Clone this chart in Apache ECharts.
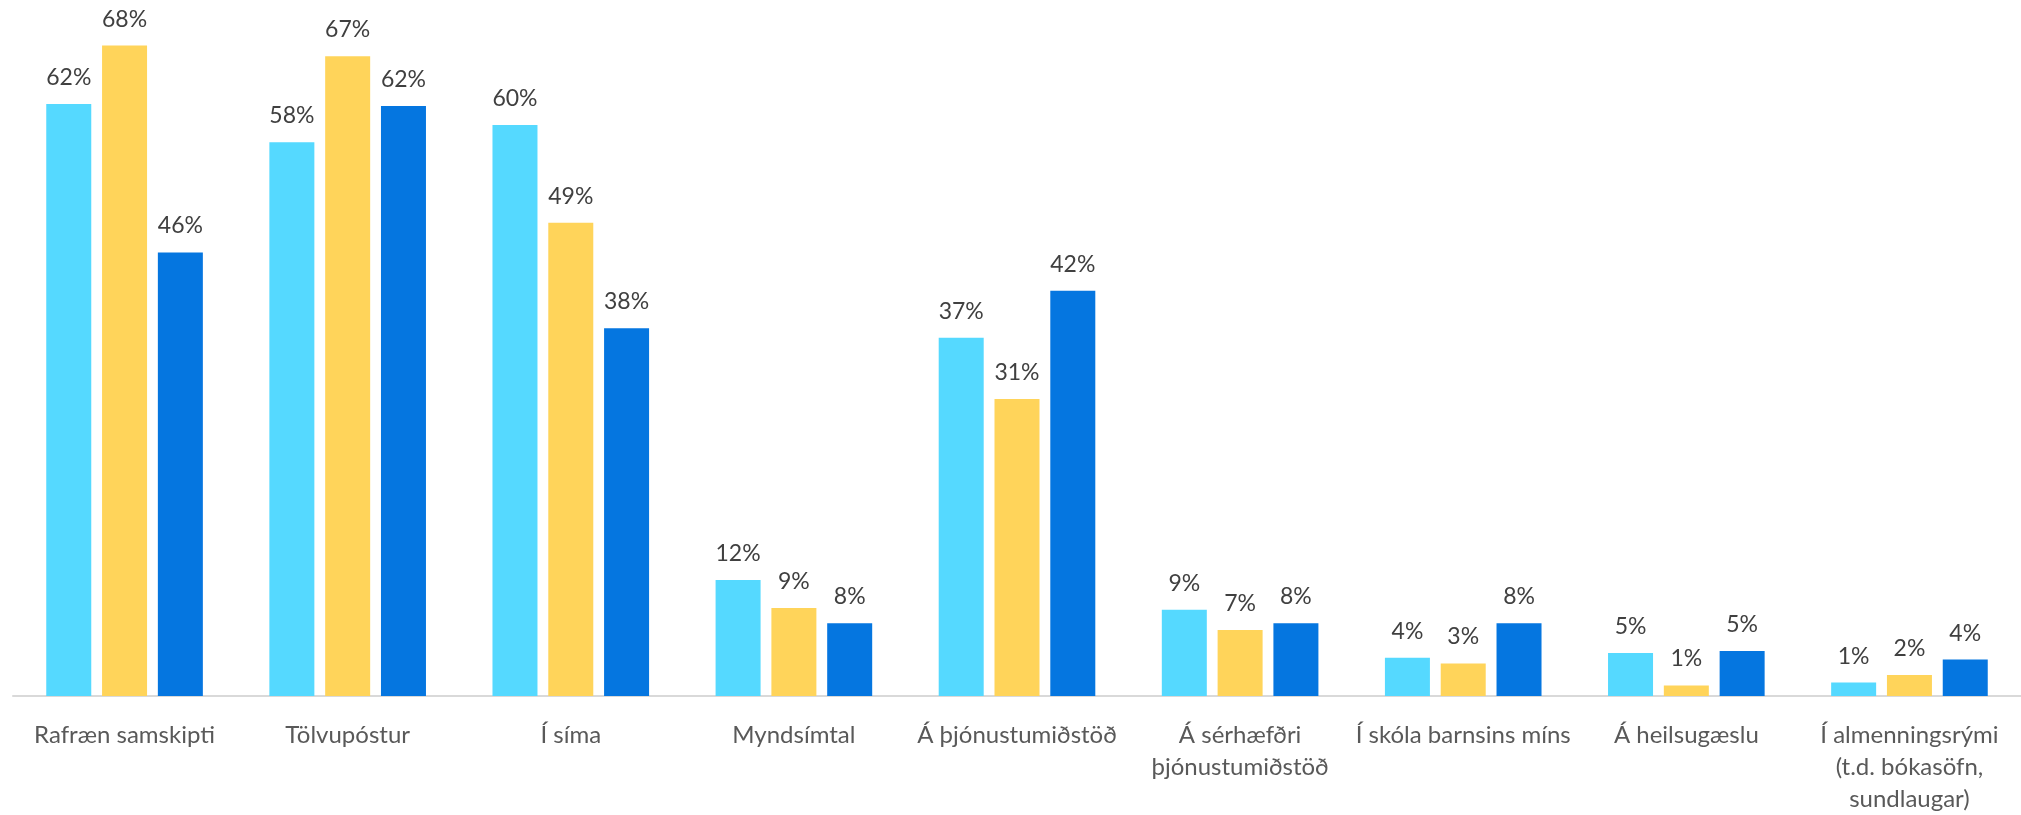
<!DOCTYPE html>
<html>
<head>
<meta charset="utf-8">
<script src="https://cdn.jsdelivr.net/npm/echarts@6/dist/echarts.min.js"></script>
<style>
  html, body { margin: 0; padding: 0; background: #fff; }
  #chart { width: 2021px; height: 815px; }
</style>
</head>
<body>
<div id="chart"></div>
<script>
// flokkar (x-ás)
var categories = [
    'Rafræn samskipti',
    'Tölvupóstur',
    'Í síma',
    'Myndsímtal',
    'Á þjónustumiðstöð',
    'Á sérhæfðri\nþjónustumiðstöð',
    'Í skóla barnsins míns',
    'Á heilsugæslu',
    'Í almenningsrými\n(t.d. bókasöfn,\nsundlaugar)'
];
// gildi í % lesin af myndinni
var lightBlueValues = [61.8, 57.8, 59.6, 12.1, 37.4, 9.0, 4.0, 4.5, 1.4];
var yellowValues = [67.9, 66.8, 49.4, 9.2, 31.0, 6.9, 3.4, 1.1, 2.2];
var blueValues = [46.3, 61.6, 38.4, 7.6, 42.3, 7.6, 7.6, 4.7, 3.8];

var fontFamily = 'Lato, "Open Sans", sans-serif';

function makeSeries(data, color) {
    return {
        type: 'bar',
        data: data,
        barWidth: 45,
        barGap: '24%',
        itemStyle: { color: color },
        label: {
            show: true,
            position: 'top',
            distance: 15,
            color: '#404040',
            fontSize: 23,
            fontFamily: fontFamily,
            formatter: function (p) {
                return Math.round(p.value) + '%';
            }
        }
    };
}

var chart = echarts.init(document.getElementById('chart'));
var option = {
    backgroundColor: '#ffffff',
    animation: false,
    grid: { left: 13, right: 0, top: 25.5, bottom: 114, containLabel: false },
    xAxis: {
        type: 'category',
        data: categories,
        axisLine: { show: true, lineStyle: { color: '#d9d9d9', width: 2 } },
        axisTick: { show: false },
        axisLabel: {
            interval: 0,
            margin: 23,
            color: '#595959',
            fontSize: 24,
            lineHeight: 32,
            fontFamily: fontFamily,
            align: 'center'
        }
    },
    yAxis: {
        type: 'value',
        min: 0,
        max: 70,
        show: false,
        splitLine: { show: false }
    },
    series: [
        makeSeries(lightBlueValues, '#55d9ff'),
        makeSeries(yellowValues, '#ffd45a'),
        makeSeries(blueValues, '#0576e0')
    ]
};
chart.setOption(option);
</script>
</body>
</html>
